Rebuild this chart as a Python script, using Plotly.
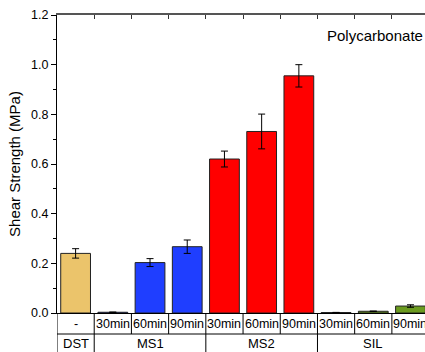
import plotly.graph_objects as go

# Sample conditions and measured lap-shear strengths on polycarbonate
cure_times = ["-", "30min", "60min", "90min", "30min", "60min", "90min", "30min", "60min", "90min"]
groups = ["DST", "MS1", "MS2", "SIL"]
group_sizes = [1, 3, 3, 3]
strength = [0.240, 0.003, 0.203, 0.267, 0.620, 0.731, 0.955, 0.002, 0.007, 0.028]
strength_err = [0.019, 0.001, 0.016, 0.027, 0.032, 0.070, 0.045, 0.0005, 0.001, 0.005]
group_colors = ["#EBC46B", "#1F3EFF", "#FF0000", "#6B9B1F"]
y_ticks = [0.0, 0.2, 0.4, 0.6, 0.8, 1.0, 1.2]

x = list(range(len(strength)))
bar_colors = []
for c, n in zip(group_colors, group_sizes):
    bar_colors += [c] * n

X_MIN, X_MAX = -0.5, 9.39
ROW1 = -0.0705   # paper y of the line between the two label rows
ROW2 = -0.131    # paper y of the bottom edge

fig = go.Figure()
fig.add_trace(go.Bar(
    x=x, y=strength, width=0.8,
    marker=dict(color=bar_colors, line=dict(color="#222222", width=1)),
    error_y=dict(type="data", array=strength_err, color="black", thickness=1, width=3.5),
    showlegend=False,
))

# top axis with inward ticks at category boundaries
fig.add_trace(go.Scatter(x=[X_MIN], y=[0], xaxis="x2", mode="markers",
                         marker=dict(opacity=0), showlegend=False, hoverinfo="skip"))

font = dict(family="Arial, Liberation Sans, sans-serif", color="black")

fig.update_layout(
    width=425, height=352,
    margin=dict(l=57, r=0, t=15, b=39),
    plot_bgcolor="white", paper_bgcolor="white",
    font=dict(**font, size=12),
    xaxis=dict(range=[X_MIN, X_MAX], showticklabels=False, ticks="",
               showline=True, linecolor="black", linewidth=1,
               showgrid=False, zeroline=False),
    xaxis2=dict(range=[X_MIN, X_MAX], overlaying="x", side="top",
                tickvals=[i + 0.5 for i in range(len(x))], ticks="inside",
                ticklen=4, tickcolor="#333333", showticklabels=False,
                showline=True, linecolor="#555555", linewidth=1.5,
                showgrid=False, zeroline=False),
    yaxis=dict(range=[0, 1.2], tickvals=y_ticks,
               ticktext=[f"{v:.1f}" for v in y_ticks],
               ticks="outside", ticklen=5, tickcolor="black",
               minor=dict(dtick=0.1, ticks="outside", ticklen=3, tickcolor="black"),
               showline=True, linecolor="black", linewidth=1,
               showgrid=False, zeroline=False,
               tickfont=dict(size=12.5),
               title=dict(text="Shear Strength (MPa)", font=dict(size=15), standoff=6)),
    bargap=0.2,
)

shapes = []
line = dict(color="black", width=1)
# left edge continues down through the label table
shapes.append(dict(type="line", xref="x", yref="paper", x0=X_MIN, x1=X_MIN,
                   y0=0, y1=ROW2, line=line))
# separator between the two rows
shapes.append(dict(type="line", xref="x", yref="paper", x0=X_MIN, x1=X_MAX,
                   y0=ROW1, y1=ROW1, line=line))
# first row: one cell per bar
for i in range(len(x) - 1):
    shapes.append(dict(type="line", xref="x", yref="paper", x0=i + 0.5, x1=i + 0.5,
                       y0=0, y1=ROW1, line=line))
# second row: one cell per group
edge = -0.5
for n in group_sizes[:-1]:
    edge += n
    shapes.append(dict(type="line", xref="x", yref="paper", x0=edge, x1=edge,
                       y0=ROW1, y1=ROW2, line=line))
fig.update_layout(shapes=shapes)

annotations = []
for xi, label in zip(x, cure_times):
    annotations.append(dict(x=xi, y=ROW1 / 2, xref="x", yref="paper", text=label,
                            showarrow=False, font=dict(size=12.5), xanchor="center",
                            yanchor="middle"))
start = 0
for g, n in zip(groups, group_sizes):
    annotations.append(dict(x=start + (n - 1) / 2, y=(ROW1 + ROW2) / 2, xref="x",
                            yref="paper", text=g, showarrow=False,
                            font=dict(size=13), yanchor="middle"))
    start += n
annotations.append(dict(x=1, y=0.93, xref="paper", yref="paper", text="Polycarbonate",
                        showarrow=False, xanchor="right", yanchor="middle",
                        font=dict(size=15)))
fig.update_layout(annotations=annotations)

fig.write_html("out.html")
